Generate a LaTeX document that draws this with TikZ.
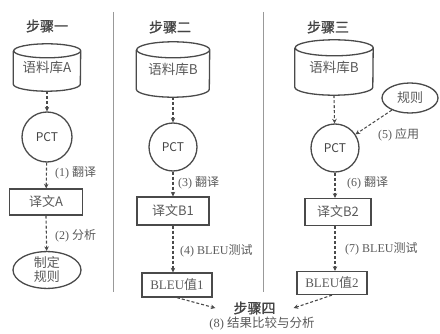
\documentclass[tikz,border=0pt]{standalone}
\usepackage{fontspec}
\setmainfont{Liberation Serif}
\newfontfamily\cjk{Noto Sans CJK SC}
\newfontfamily\cjkm[FakeBold=1.2]{Noto Sans CJK SC}
\usetikzlibrary{arrows.meta,shapes.geometric}
\definecolor{ln}{HTML}{4A4A4A}
\definecolor{tx}{HTML}{5A5A5A}
\definecolor{ttl}{HTML}{444444}
\begin{document}
\begin{tikzpicture}[x=1pt,y=1pt,
  outl/.style={draw=ln,line width=1.3pt},
  boxn/.style={outl,rectangle,minimum width=#1,minimum height=26pt,inner sep=0pt,text=tx,font=\fontsize{13}{15}\selectfont},
  body/.style={rectangle,minimum width=#1,inner sep=0pt,text=tx,font=\cjk\fontsize{13.5}{15}\selectfont},
  pct/.style={outl,circle,minimum size=#1,inner sep=0pt,text=ttl,font=\cjk\fontsize{12}{14}\selectfont},
  ell/.style={outl,ellipse,inner sep=0pt,text=tx,align=center,font=\cjk\fontsize{13}{14}\selectfont},
  ttlt/.style={text=ttl,font=\cjkm\fontsize{14}{16}\selectfont},
  lbl/.style={anchor=west,text=tx,inner sep=0pt,font=\fontsize{12}{14}\selectfont},
  arr/.style={draw=ln,line width=1.1pt,dash pattern=on 3pt off 2pt,-{Stealth[length=4.5pt,width=4.5pt]}},
  sep/.style={draw=gray!80,line width=1pt}]
\useasboundingbox (0,0) rectangle (440,333);

% separators
\coordinate (s1t) at (113,321); \coordinate (s1b) at (113,41);
\coordinate (s2t) at (263,321); \coordinate (s2b) at (263,41);
\draw[sep] (s1t) -- (s1b);
\draw[sep] (s2t) -- (s2b);

% ---------- column 1 ----------
\node[ttlt] (t1) at (47,307) {步骤一};
\node[body=67pt,minimum height=33pt] (cylA) at (47,265.5) {语料库A};
\draw[outl] (cylA.north west) -- (cylA.south west)
  arc[start angle=180,end angle=360,x radius=33.5pt,y radius=7pt]
  -- (cylA.north east)
  arc[start angle=0,end angle=360,x radius=33.5pt,y radius=7pt];
\node[pct=50pt] (pctA) at (47,196) {PCT};
\node[boxn=73pt] (trA) at (46,131) {\cjk 译文A};
\node[ell,minimum width=68pt,minimum height=36pt] (rulA) at (47,63) {制定\\规则};
\draw[arr] ([yshift=-7pt]cylA.south) -- (pctA);
\draw[arr] (pctA) -- (trA);
\draw[arr] (trA.south) -- (rulA);
\node[lbl] (l1) at (55,160) {(1) {\cjk 翻译}};
\node[lbl] (l2) at (55,97) {(2) {\cjk 分析}};

% ---------- column 2 ----------
\node[ttlt] (t2) at (170,306) {步骤二};
\node[body=73pt,minimum height=39pt] (cylB) at (173,263.5) {语料库B};
\draw[outl] (cylB.north west) -- (cylB.south west)
  arc[start angle=180,end angle=360,x radius=36.5pt,y radius=8pt]
  -- (cylB.north east)
  arc[start angle=0,end angle=360,x radius=36.5pt,y radius=8pt];
\node[pct=48pt] (pctB) at (173,186) {PCT};
\node[boxn=72pt,minimum height=28pt] (trB) at (173,122) {\cjk 译文B1};
\node[boxn=70pt,minimum height=24pt] (bl1) at (177,48) {BLEU{\cjk 值}1};
\draw[arr] ([yshift=-8pt]cylB.south) -- (pctB);
\draw[arr] (pctB) -- (trB);
\draw[arr] (trB.south) -- (trB.south |- bl1.north);
\node[lbl] (l3) at (178,150) {(3) {\cjk 翻译}};
\node[lbl] (l4) at (180,82) {(4) BLEU{\cjk 测试}};

% ---------- column 3 ----------
\node[ttlt] (t3) at (328,306) {步骤三};
\node[body=78pt,minimum height=39pt] (cylC) at (334,265.5) {语料库B};
\draw[outl] (cylC.north west) -- (cylC.south west)
  arc[start angle=180,end angle=360,x radius=39pt,y radius=8pt]
  -- (cylC.north east)
  arc[start angle=0,end angle=360,x radius=39pt,y radius=8pt];
\node[pct=48pt] (pctC) at (335,185) {PCT};
\node[ell,minimum width=56pt,minimum height=30pt] (rulC) at (410,235) {规则};
\node[boxn=66pt,minimum height=27pt] (trC) at (338,121) {\cjk 译文B2};
\node[boxn=70pt,minimum height=23pt] (bl2) at (332,50) {BLEU{\cjk 值}2};
\draw[arr] ([yshift=-8pt]cylC.south) -- (pctC);
\draw[arr] (rulC) -- (pctC);
\draw[arr] (pctC) -- (pctC |- trC.north);
\draw[arr] (pctC |- trC.south) -- (pctC |- bl2.north);
\node[lbl] (l5) at (378,198) {(5) {\cjk 应用}};
\node[lbl] (l6) at (347,150) {(6) {\cjk 翻译}};
\node[lbl] (l7) at (345,84) {(7) BLEU{\cjk 测试}};

% ---------- step 4 ----------
\node[ttlt,minimum width=78pt,inner sep=0pt] (s4) at (254.5,25) {步骤四};
\node[text=tx,inner sep=0pt,font=\fontsize{12.5}{14}\selectfont] (s4l) at (262,9) {(8) {\cjk 结果比较与分析}};
\draw[arr] (bl1.south) -- (s4.west);
\draw[arr] (bl2.south) -- (s4.east);
\end{tikzpicture}
\end{document}
